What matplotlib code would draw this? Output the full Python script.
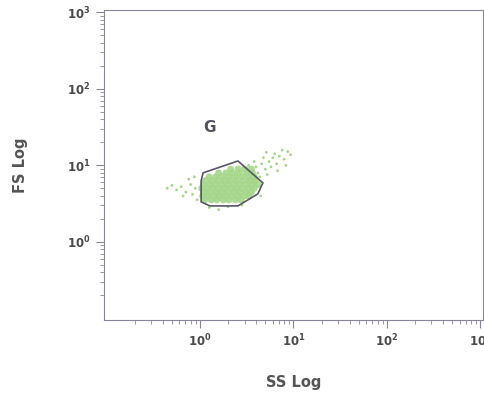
import numpy as np
import matplotlib.pyplot as plt
from matplotlib.patches import Polygon

# Events, in decades (log10 of SS and FS)
core_ss = [0.05, 0.12, 0.18, 0.25, 0.31, 0.38, 0.44,
           0.03, 0.09, 0.15, 0.21, 0.28, 0.34, 0.41, 0.47, 0.52,
           0.04, 0.10, 0.17, 0.23, 0.29, 0.36, 0.42, 0.49, 0.55,
           0.02, 0.08, 0.14, 0.20, 0.26, 0.33, 0.39, 0.45, 0.52, 0.58,
           0.04, 0.11, 0.17, 0.24, 0.30, 0.37, 0.43, 0.50, 0.56, 0.62,
           0.06, 0.13, 0.19, 0.26, 0.32, 0.39, 0.46, 0.53, 0.59,
           0.10, 0.17, 0.24, 0.31, 0.38, 0.45, 0.52, 0.58,
           0.20, 0.28, 0.35, 0.42, 0.50, 0.56,
           0.33, 0.41, 0.48, 0.55]
core_fs = [0.55] * 7 + [0.60] * 9 + [0.65] * 9 + [0.70] * 10 + [0.75] * 10 + \
          [0.80] * 9 + [0.85] * 8 + [0.90] * 6 + [0.95] * 4

sparse_ss = [0.60, 0.66, 0.70, 0.74, 0.78, 0.82, 0.85, 0.90, 0.94, 0.68, 0.62,
             0.72, 0.80, 0.88, 0.97, 0.58, 0.64, 0.76, 0.71, 0.83, 0.92,
             -0.05, -0.10, -0.15, -0.20, -0.25, -0.08, -0.12, -0.30, -0.03,
             -0.06, -0.18, -0.35, 0.10, 0.30, 0.45, 0.20, 0.65, 0.52]
sparse_fs = [0.98, 1.02, 0.95, 1.05, 1.10, 1.02, 1.12, 1.08, 1.18, 1.10, 0.90,
             0.88, 1.15, 1.20, 1.14, 1.05, 0.85, 0.98, 1.17, 0.93, 1.00,
             0.70, 0.75, 0.65, 0.72, 0.68, 0.62, 0.82, 0.74, 0.55,
             0.85, 0.60, 0.70, 0.45, 0.46, 0.48, 0.42, 0.60, 1.00]

# Gate G vertices
gate_ss = [1.03, 1.08, 2.55, 4.72, 4.17, 2.55, 1.28, 1.03]
gate_fs = [6.27, 7.98, 11.4, 5.9, 4.24, 2.95, 2.95, 3.33]

major = [1, 10, 100, 1000]
major_labels = [r'$\mathbf{10^{0}}$', r'$\mathbf{10^{1}}$',
                r'$\mathbf{10^{2}}$', r'$\mathbf{10^{3}}$']

fig = plt.figure(figsize=(4.85, 3.95), dpi=100)
ax = fig.add_axes([0.2144, 0.19, 0.781, 0.785])

ax.scatter(10 ** np.array(core_ss), 10 ** np.array(core_fs), s=26,
           color='#a4d68a', edgecolors='none', alpha=0.9)
ax.scatter(10 ** np.array(sparse_ss), 10 ** np.array(sparse_fs), s=4,
           color='#a4d68a', edgecolors='none')

ax.add_patch(Polygon(list(zip(gate_ss, gate_fs)), closed=True, fill=False,
                     edgecolor='#5a5566', linewidth=1.2))
ax.text(1.28, 31, 'G', fontsize=11, fontweight='bold', color='#55505f',
        ha='center', va='center')

ax.set_xscale('log')
ax.set_yscale('log')
ax.set_xlim(0.094, 1064)
ax.set_ylim(0.0955, 1075)
ax.set_xticks(major)
ax.set_xticklabels(major_labels)
ax.set_yticks(major)
ax.set_yticklabels(major_labels)

for s in ax.spines.values():
    s.set_color('#8a8296')
ax.tick_params(which='both', direction='out', colors='#8a8296',
               labelcolor='#4a4a4a', labelsize=8.5)
ax.tick_params(which='major', length=6)
ax.tick_params(which='minor', length=3)

ax.set_xlabel('SS Log', fontsize=10.5, fontweight='bold', color='#555555',
              labelpad=18)
ax.set_ylabel('FS Log', fontsize=10.5, fontweight='bold', color='#555555',
              labelpad=28)

fig.savefig('out.png', dpi=100)
